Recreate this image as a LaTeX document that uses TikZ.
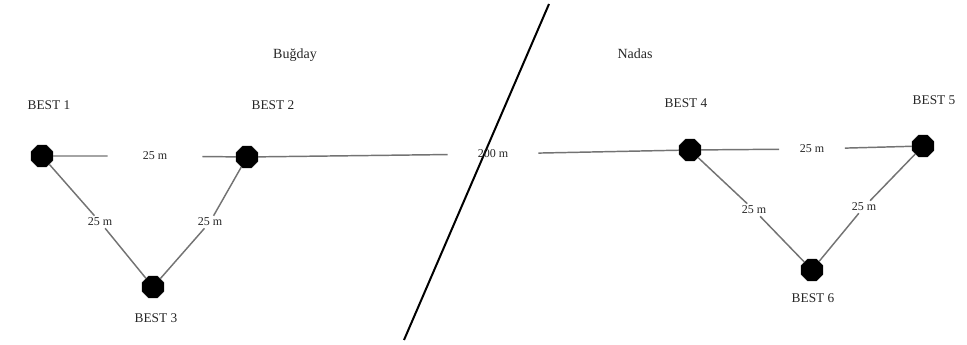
\documentclass[tikz,border=0pt]{standalone}
\usepackage{fontspec}
\setmainfont{Liberation Serif}
\usetikzlibrary{shapes.geometric}
\tikzset{
  pt/.style={regular polygon,regular polygon sides=8,draw=black,fill=black,minimum size=17.5pt,inner sep=0pt},
  lnk/.style={draw=black!55,line width=1.1pt},
  cut/.style={draw=black,line width=1.5pt},
  lb/.style={font=\fontsize{10}{12}\selectfont,text=black!85,inner sep=1pt},
  ds/.style={font=\fontsize{9}{10}\selectfont,text=black!85,inner sep=1.5pt},
}
\begin{document}
\begin{tikzpicture}[x=0.75pt,y=-0.75pt]
\useasboundingbox (0,0) rectangle (967,345);
% sampling points
\node[pt] (b1) at (42,156) {};
\node[pt] (b2) at (247,157) {};
\node[pt] (b3) at (153,287) {};
\node[pt] (b4) at (690,150) {};
\node[pt] (b5) at (923,146) {};
\node[pt] (b6) at (812,270) {};
% point names
\foreach \p/\x/\y in {1/49/105,2/273/105,3/156/318,4/686/103,5/934/100,6/813/298}{
  \node[lb] (n\p) at (\x,\y) {BEST \p};
}
% field names
\node[lb,font=\fontsize{10.5}{12}\selectfont] (f1) at (295,55) {Buğday};
\node[lb,font=\fontsize{10.5}{12}\selectfont] (f2) at (635,54) {Nadas};
% field border
\coordinate (c1) at (549,4);
\coordinate (c2) at (404,340);
\draw[cut] (c1) -- (c2);
% distances; each one breaks its line
\node[ds,minimum width=70.5pt] (d12) at (155,156) {25 m};
\node[ds,minimum width=67.5pt] (d24) at (493,154) {200 m};
\node[ds,minimum width=49pt] (d45) at (812,149) {25 m};
\node[ds] (d13) at (100,222) {25 m};
\node[ds] (d23) at (210,222) {25 m};
\node[ds] (d46) at (754,210) {25 m};
\node[ds] (d56) at (864,207) {25 m};
\draw[lnk] (b1) -- (d12) -- (b2);
\draw[lnk] (b2) -- (d24) -- (b4);
\draw[lnk] (b4) -- (d45) -- (b5);
\draw[lnk] (b1) -- (d13) -- (b3);
\draw[lnk] (b2) -- (d23) -- (b3);
\draw[lnk] (b4) -- (d46) -- (b6);
\draw[lnk] (b5) -- (d56) -- (b6);
\end{tikzpicture}
\end{document}
